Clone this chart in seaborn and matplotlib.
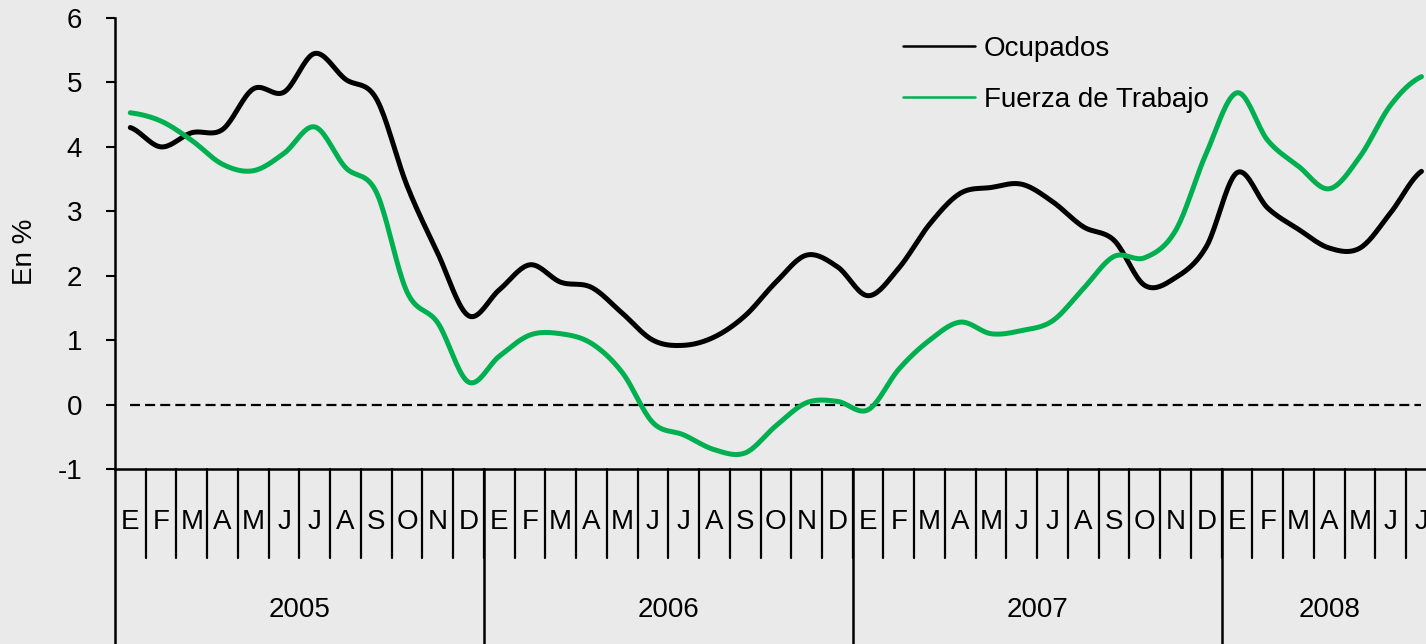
import numpy as np
import pandas as pd
import matplotlib
matplotlib.use("Agg")
import matplotlib.pyplot as plt
import seaborn as sns
from matplotlib.lines import Line2D

# ---------------- data (% yoy) ----------------
meses = ["E", "F", "M", "A", "M", "J", "J", "A", "S", "O", "N", "D"]
anios = ["2005", "2006", "2007", "2008"]
meses_por_anio = [12, 12, 12, 7]

ocupados = [4.30, 4.00, 4.22, 4.27, 4.90, 4.85, 5.45, 5.05, 4.75, 3.40, 2.35, 1.38,
            1.78, 2.17, 1.90, 1.82, 1.42, 1.00, 0.92, 1.05, 1.38, 1.90, 2.32, 2.14,
            1.69, 2.12, 2.80, 3.28, 3.37, 3.42, 3.15, 2.76, 2.55, 1.85, 1.97, 2.45,
            3.60, 3.05, 2.72, 2.43, 2.43, 2.98, 3.62]
fuerza = [4.53, 4.40, 4.10, 3.73, 3.63, 3.90, 4.31, 3.68, 3.30, 1.75, 1.27, 0.35,
          0.75, 1.08, 1.10, 0.95, 0.50, -0.28, -0.47, -0.70, -0.75, -0.33, 0.03, 0.05,
          -0.08, 0.55, 1.00, 1.28, 1.10, 1.15, 1.30, 1.80, 2.30, 2.28, 2.70, 3.90,
          4.84, 4.10, 3.70, 3.35, 3.85, 4.65, 5.09]

VERDE = "#00B050"
FONDO = "#EAEAEA"


def suavizar(y, pasos=20):
    # excel-like "smoothed line": catmull-rom between the monthly points
    y = np.asarray(y, float)
    p = np.concatenate([[y[0]], y, [y[-1]]])
    t = np.linspace(0, 1, pasos, endpoint=False)
    xs, ys = [], []
    for i in range(len(y) - 1):
        p0, p1, p2, p3 = p[i], p[i + 1], p[i + 2], p[i + 3]
        yy = 0.5 * (2 * p1 + (-p0 + p2) * t + (2 * p0 - 5 * p1 + 4 * p2 - p3) * t ** 2
                    + (-p0 + 3 * p1 - 3 * p2 + p3) * t ** 3)
        xs.extend(i + t)
        ys.extend(yy)
    xs.append(len(y) - 1)
    ys.append(y[-1])
    return np.array(xs), np.array(ys)


sns.set_theme(style="white", rc={"axes.facecolor": FONDO, "figure.facecolor": FONDO,
                                 "text.color": "black", "axes.labelcolor": "black",
                                 "xtick.color": "black", "ytick.color": "black",
                                 "axes.unicode_minus": False})
plt.rcParams['font.family'] = ['Liberation Sans', 'DejaVu Sans']

fig = plt.figure(figsize=(14.26, 6.44), dpi=100)
ax = fig.add_axes([0.0806, 0.2717, 0.927, 0.7003])

frames = []
for nombre, serie in [("Ocupados", ocupados), ("Fuerza de Trabajo", fuerza)]:
    xs, ys = suavizar(serie)
    frames.append(pd.DataFrame({"x": xs, "y": ys, "serie": nombre}))
df = pd.concat(frames, ignore_index=True)

sns.lineplot(data=df, x="x", y="y", hue="serie", palette=["black", VERDE],
             estimator=None, sort=False, lw=3.6, legend=False, ax=ax)

n = len(ocupados)
ax.plot([0, n - 1], [0, 0], color="black", lw=1.6, ls=(0, (4.5, 2.3)), zorder=1)

ax.set_xlim(-0.5, n - 0.5)
ax.set_ylim(-1, 6)
ax.set_yticks(range(-1, 7))
ax.set_xticks([])
ax.set_xlabel("")
ax.set_ylabel("")
ax.tick_params(axis="y", direction="out", length=6.5, width=1.5, pad=17,
               labelsize=20, colors="black", left=True)
for s in ["top", "right"]:
    ax.spines[s].set_visible(False)
for s in ["left", "bottom"]:
    ax.spines[s].set_color("black")
    ax.spines[s].set_linewidth(1.8)

# category axis drawn by hand: month cells and year groups
tr = ax.get_xaxis_transform()
for i in range(1, n):
    ax.plot([i - 0.5, i - 0.5], [0, -0.197], transform=tr, color="black", lw=1.6, clip_on=False)
for i in range(n):
    ax.text(i, -0.1175, meses[i % 12], transform=tr, ha="center", va="center",
            fontsize=20, color="black")

inicio = 0
for anio, k in zip(anios, meses_por_anio):
    ax.plot([inicio - 0.5, inicio - 0.5], [0, -0.40], transform=tr, color="black",
            lw=1.8, clip_on=False)
    ax.text(inicio + k / 2 - 0.5, -0.3126, anio, transform=tr, ha="center", va="center",
            fontsize=20, color="black")
    inicio += k

fig.text(25 / 1426, 1 - 252 / 644, "En %", rotation=90, ha="center", va="center",
         fontsize=20, color="black")

handles = [Line2D([], [], color="black", lw=1.8), Line2D([], [], color=VERDE, lw=1.8)]
leg = ax.legend(handles, ["Ocupados", "Fuerza de Trabajo"], loc="upper left",
                bbox_to_anchor=(903 / 1426, 1 - 36 / 644), bbox_transform=fig.transFigure,
                frameon=False, fontsize=20, handlelength=2.6, handletextpad=0.32,
                labelspacing=0.9, borderpad=0, borderaxespad=0)
for t in leg.get_texts():
    t.set_color("black")

fig.savefig("out.png", dpi=100, facecolor=FONDO)
